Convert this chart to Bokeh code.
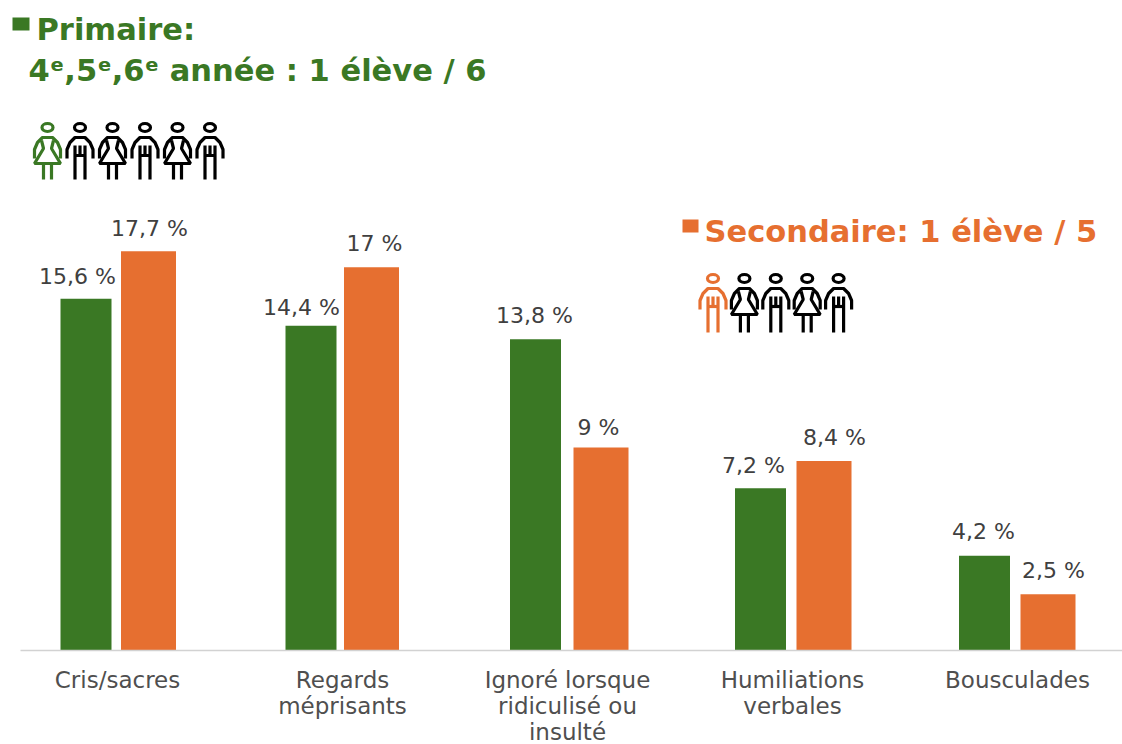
from bokeh.embed import file_html
from bokeh.resources import INLINE
from bokeh.plotting import figure
from bokeh.models import ColumnDataSource, Range1d, FixedTicker
from bokeh.core.properties import value

categories = ["Cris/sacres", "Regards\nméprisants", "Ignoré lorsque\nridiculisé ou\ninsulté", "Humiliations\nverbales", "Bousculades"]
primaire = [15.6, 14.4, 13.8, 7.2, 4.2]
secondaire = [17.7, 17.0, 9.0, 8.4, 2.5]
primaire_labels = ["15,6 %", "14,4 %", "13,8 %", "7,2 %", "4,2 %"]
secondaire_labels = ["17,7 %", "17 %", "9 %", "8,4 %", "2,5 %"]
title_primaire = ["Primaire:", "4ᵉ,5ᵉ,6ᵉ année : 1 élève / 6"]
title_secondaire = "Secondaire: 1 élève / 5"
people_primaire = ["f", "m", "f", "m", "f", "m"]
people_secondaire = ["m", "f", "m", "f", "m"]

GREEN = "#3a7824"
ORANGE = "#e66f30"
GREY = "#404040"
FONT = "DejaVu Sans"
W, H = 1122, 744
BASE_Y = 650            # pixel row of the baseline
PX_PER_UNIT = 22.55
STEP = 225.0
C0 = 117.0

x_range = Range1d(-C0 / STEP, (W - C0) / STEP)
y_range = Range1d(-(H - BASE_Y) / PX_PER_UNIT, BASE_Y / PX_PER_UNIT)
p = figure(width=W, height=H, output_backend="svg", toolbar_location=None,
           x_range=x_range, y_range=y_range, min_border_left=0, min_border_right=0,
           min_border_top=0, min_border_bottom=0, outline_line_color=None,
           background_fill_color="white", border_fill_color="white")
p.grid.visible = False
p.yaxis.visible = False
p.xaxis.fixed_location = 0
p.xaxis.ticker = FixedTicker(ticks=list(range(len(categories))))
p.xaxis.major_label_overrides = {i: c for i, c in enumerate(categories)}
p.xaxis.major_tick_line_color = None
p.xaxis.minor_tick_line_color = None
p.xaxis.axis_line_color = "#d2d2d2"
p.xaxis.axis_line_width = 1.5
p.xaxis.bounds = ((20 - C0) / STEP, (W - C0) / STEP)
p.xaxis.major_label_text_font = FONT
p.xaxis.major_label_text_font_size = "23px"
p.xaxis.major_label_text_color = "#4f4f4f"
p.xaxis.major_label_text_line_height = 1.0
p.xaxis.major_label_standoff = 10

p.extra_x_ranges["px"] = Range1d(0, W)
p.extra_y_ranges["px"] = Range1d(H, 0)

idx = list(range(len(categories)))
g_off = [-31.5, -31.5, -32, -32, -33]
o_off = [31, 29, 33.5, 31.5, 30.5]
g_lab = [-40, -41, -33, -39, -34]
o_lab = [32, 32, 31, 42, 36]
g_dy = [-22, -18, -24, -23, -24]
o_dy = [-23, -24, -20, -24, -24]
g_x = [i + d / STEP for i, d in zip(idx, g_off)]
o_x = [i + d / STEP for i, d in zip(idx, o_off)]
p.vbar(x=g_x, top=primaire, width=51 / STEP, bottom=0, fill_color=GREEN, line_color=None)
p.vbar(x=o_x, top=secondaire, width=55 / STEP, bottom=0, fill_color=ORANGE, line_color=None)

for vals, labs, off, dy in ((primaire, primaire_labels, g_lab, g_dy), (secondaire, secondaire_labels, o_lab, o_dy)):
    src = ColumnDataSource(dict(x=[i + d / STEP for i, d in zip(idx, off)], y=vals, t=labs, dy=dy))
    p.text(x="x", y="y", text="t", source=src, text_font=value(FONT), text_font_size="22px",
           text_color=GREY, text_align="center", text_baseline="middle", y_offset="dy")


def px_text(x, y, t, color, size):
    p.text(x=[x], y=[y], text=[t], text_font=value(FONT), text_font_size=size, text_color=color,
           text_align="left", text_baseline="alphabetic", x_range_name="px", y_range_name="px",
           text_font_style="bold")


def person(cx, top, kind, color, h=57):
    kw = dict(x_range_name="px", y_range_name="px", line_color=color, line_width=3.2)
    p.ellipse(x=[cx], y=[top + 5], width=[11], height=[8], fill_color="white", **kw)
    b = top + h
    arm_x = [cx - 13, cx - 13, cx - 10, cx - 5, cx + 5, cx + 10, cx + 13, cx + 13]
    arm_y = [top + 36, top + 27, top + 20, top + 15, top + 15, top + 20, top + 27, top + 36]
    if kind == "m":
        xs = [arm_x, [cx - 5, cx - 5], [cx + 5, cx + 5], [cx, cx], [cx - 5, cx + 5]]
        ys = [arm_y, [top + 23, b], [top + 23, b], [top + 23, top + 33], [top + 33, top + 33]]
    else:
        xs = [arm_x, [cx - 6, cx - 4, cx - 13, cx + 13, cx + 4, cx + 6],
              [cx - 4, cx - 4], [cx + 4, cx + 4]]
        ys = [arm_y, [top + 18, top + 26, top + 41, top + 41, top + 26, top + 18],
              [top + 41, b], [top + 41, b]]
    p.multi_line(xs=xs, ys=ys, **kw)


p.quad(left=[12], right=[29], top=[17], bottom=[30], fill_color=GREEN, line_color=None,
       x_range_name="px", y_range_name="px")
px_text(36, 29, title_primaire[0], GREEN, "30.5px")
px_text(28, 70, title_primaire[1], GREEN, "30.5px")
for i, k in enumerate(people_primaire):
    person(47 + i * 32.5, 122, k, GREEN if i == 0 else "black")

p.quad(left=[682], right=[698], top=[219], bottom=[232], fill_color=ORANGE, line_color=None,
       x_range_name="px", y_range_name="px")
px_text(704, 231, title_secondaire, ORANGE, "30.5px")
for i, k in enumerate(people_secondaire):
    person(712.5 + i * 31.4, 273, k, ORANGE if i == 0 else "black", h=59)

open("out.html", "w").write(file_html(p, INLINE))
